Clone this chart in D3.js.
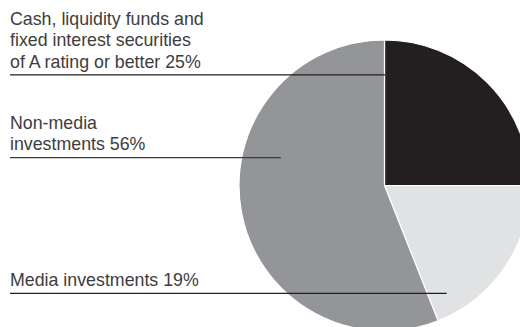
<!DOCTYPE html>
<html>
<head>
<meta charset="utf-8">
<script src="https://cdn.jsdelivr.net/npm/d3@7"></script>
<style>
  body { margin: 0; background: #fff; }
  svg { display: block; }
</style>
</head>
<body>
<script>
// data
var categories = ["Cash, liquidity funds and fixed interest securities of A rating or better", "Media investments", "Non-media investments"];
var shares = [25, 19, 56];
var colours = ["#231f20", "#e1e2e3", "#939598"];

// label text lines, per category
var labelLines = [
    ["Cash, liquidity funds and", "fixed interest securities", "of A rating or better 25%"],
    ["Media investments 19%"],
    ["Non-media", "investments 56%"]
];

var width = 520;
var height = 327;
var cx = 384.5, cy = 185.5, radius = 145.5;

var svg = d3.select("body")
    .append("svg")
    .attr("width", width)
    .attr("height", height);

var pie = d3.pie().sort(null).value(function(d){ return d; });
var arc = d3.arc().innerRadius(0).outerRadius(radius);

var g = svg.append("g").attr("transform", "translate(" + cx + "," + cy + ")");

g.selectAll("path")
    .data(pie(shares))
    .enter()
    .append("path")
    .attr("d", arc)
    .attr("fill", function(d, i){ return colours[i]; })
    .attr("stroke", "#fff")
    .attr("stroke-width", 1.2)
    .attr("stroke-linejoin", "round");

// leader lines: y of the rule under each label and where it ends
var rules = [
    {y: 74.8, x2: 385},
    {y: 293.3, x2: 446.7},
    {y: 157.7, x2: 280.7}
];

var leftX = 10;
var lineH = 21.3;

labelLines.forEach(function(lines, i){
    var r = rules[i];
    svg.append("line")
        .attr("x1", leftX)
        .attr("x2", r.x2)
        .attr("y1", r.y)
        .attr("y2", r.y)
        .attr("stroke", i == 2 ? "#3a3a3c" : "#231f20")
        .attr("stroke-width", 1.3);

    var n = lines.length;
    svg.selectAll(null)
        .data(lines)
        .enter()
        .append("text")
        .attr("x", leftX)
        .attr("y", function(d, k){ return r.y - 7.3 - (n - 1 - k) * lineH; })
        .attr("font-family", "Liberation Sans, Arial, sans-serif")
        .attr("font-size", 17.8)
        .attr("fill", "#3d3d3d")
        .text(function(d){ return d; });
});
</script>
</body>
</html>
